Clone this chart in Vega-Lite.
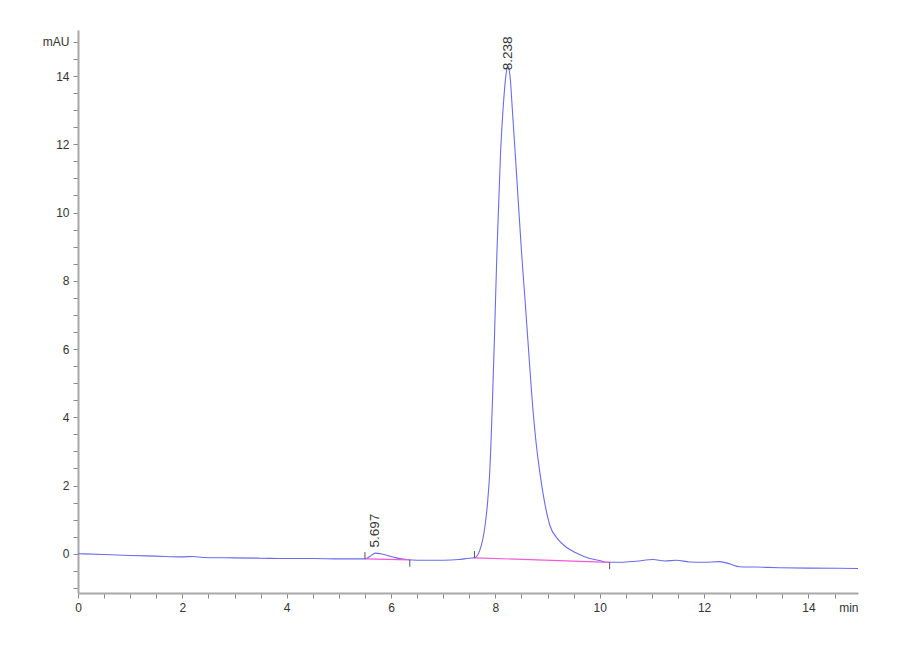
{
  "$schema": "https://vega.github.io/schema/vega-lite/v6.json",
  "width": 780,
  "height": 563,
  "autosize": "none",
  "padding": {"left": 78, "top": 30, "right": 42, "bottom": 67},
  "background": "white",
  "config": {
    "view": {"stroke": null},
    "font": "Liberation Sans",
    "axis": {
      "grid": false,
      "domainColor": "#a8a8a8",
      "domainWidth": 2,
      "tickColor": "#8a8a8a",
      "tickSize": 5,
      "tickCount": 200,
      "labelOverlap": false,
      "labelBound": false,
      "labelFlush": false,
      "labelColor": "#333333",
      "labelFontSize": 12,
      "labelFont": "Liberation Sans",
      "titleFont": "Liberation Sans",
      "titleFontWeight": "normal",
      "titleFontSize": 12,
      "titleColor": "#333333"
    }
  },
  "datasets": {
    "signal": [
      {"t": 0, "mAU": 0.0}, {"t": 0.5, "mAU": -0.02}, {"t": 1, "mAU": -0.05},
      {"t": 1.5, "mAU": -0.07}, {"t": 2, "mAU": -0.09}, {"t": 2.2, "mAU": -0.08},
      {"t": 2.4, "mAU": -0.11}, {"t": 3, "mAU": -0.12}, {"t": 3.5, "mAU": -0.13},
      {"t": 4, "mAU": -0.14}, {"t": 4.5, "mAU": -0.14}, {"t": 5, "mAU": -0.15},
      {"t": 5.5, "mAU": -0.15}, {"t": 5.6, "mAU": -0.07}, {"t": 5.7, "mAU": 0.02},
      {"t": 5.8, "mAU": 0.0}, {"t": 5.95, "mAU": -0.06}, {"t": 6.1, "mAU": -0.12},
      {"t": 6.3, "mAU": -0.17}, {"t": 6.5, "mAU": -0.19}, {"t": 7.0, "mAU": -0.19},
      {"t": 7.3, "mAU": -0.17}, {"t": 7.5, "mAU": -0.13}, {"t": 7.6, "mAU": -0.12},
      {"t": 7.7, "mAU": 0.1}, {"t": 7.8, "mAU": 0.8}, {"t": 7.85, "mAU": 1.5},
      {"t": 7.89, "mAU": 2.35}, {"t": 7.94, "mAU": 4.3}, {"t": 7.98, "mAU": 6.25},
      {"t": 8.03, "mAU": 8.86}, {"t": 8.1, "mAU": 11.8}, {"t": 8.15, "mAU": 13.1},
      {"t": 8.2, "mAU": 14.0}, {"t": 8.238, "mAU": 14.3}, {"t": 8.28, "mAU": 14.0},
      {"t": 8.33, "mAU": 12.9}, {"t": 8.39, "mAU": 11.5}, {"t": 8.5, "mAU": 8.86},
      {"t": 8.57, "mAU": 7.4}, {"t": 8.63, "mAU": 6.1}, {"t": 8.7, "mAU": 4.6},
      {"t": 8.77, "mAU": 3.4}, {"t": 8.85, "mAU": 2.4}, {"t": 8.95, "mAU": 1.45},
      {"t": 9.04, "mAU": 0.85}, {"t": 9.2, "mAU": 0.42}, {"t": 9.36, "mAU": 0.19},
      {"t": 9.55, "mAU": 0.02}, {"t": 9.81, "mAU": -0.14}, {"t": 10.0, "mAU": -0.2},
      {"t": 10.13, "mAU": -0.25}, {"t": 10.4, "mAU": -0.25}, {"t": 10.7, "mAU": -0.22},
      {"t": 11.02, "mAU": -0.17}, {"t": 11.25, "mAU": -0.21}, {"t": 11.47, "mAU": -0.19},
      {"t": 11.72, "mAU": -0.24}, {"t": 12.0, "mAU": -0.25}, {"t": 12.3, "mAU": -0.23},
      {"t": 12.5, "mAU": -0.3}, {"t": 12.68, "mAU": -0.38}, {"t": 13.0, "mAU": -0.39},
      {"t": 13.45, "mAU": -0.41}, {"t": 14.0, "mAU": -0.42}, {"t": 14.95, "mAU": -0.43}
    ],
    "baselines": [
      {"peak": "p1", "t": 5.5, "mAU": -0.15}, {"peak": "p1", "t": 6.36, "mAU": -0.18},
      {"peak": "p2", "t": 7.6, "mAU": -0.12}, {"peak": "p2", "t": 10.19, "mAU": -0.25}
    ],
    "marks": [
      {"t": 5.5, "y1": -0.15, "y2": 0.05}, {"t": 6.36, "y1": -0.18, "y2": -0.38},
      {"t": 7.6, "y1": -0.12, "y2": 0.08}, {"t": 10.19, "y1": -0.25, "y2": -0.45}
    ],
    "labels": [
      {"t": 8.238, "mAU": 14.17, "label": "8.238"},
      {"t": 5.697, "mAU": 0.18, "label": "5.697"}
    ]
  },
  "layer": [
    {
      "data": {"name": "signal"},
      "mark": {"type": "line", "color": "#6b6bf0", "strokeWidth": 1.1, "interpolate": "monotone"},
      "encoding": {
        "x": {
          "field": "t", "type": "quantitative",
          "scale": {"domain": [0, 14.95], "nice": false, "zero": false},
          "axis": {
            "values": [0, 0.5, 1, 1.5, 2, 2.5, 3, 3.5, 4, 4.5, 5, 5.5, 6, 6.5, 7, 7.5, 8, 8.5, 9, 9.5, 10, 10.5, 11, 11.5, 12, 12.5, 13, 13.5, 14, 14.5],
            "labelExpr": "datum.value % 2 == 0 ? format(datum.value, 'd') : ''",
            "labelPadding": 4,
            "title": "min",
            "titleAnchor": "end",
            "titleAlign": "right",
            "titleBaseline": "top",
            "titleY": 9,
            "titleX": 780
          }
        },
        "y": {
          "field": "mAU", "type": "quantitative",
          "scale": {"domain": [-1.15, 15.35], "nice": false, "zero": false},
          "axis": {
            "values": [-1, -0.5, 0, 0.5, 1, 1.5, 2, 2.5, 3, 3.5, 4, 4.5, 5, 5.5, 6, 6.5, 7, 7.5, 8, 8.5, 9, 9.5, 10, 10.5, 11, 11.5, 12, 12.5, 13, 13.5, 14, 14.5, 15],
            "labelExpr": "datum.value == 15 ? 'mAU' : (datum.value >= 0 && datum.value % 2 == 0 ? format(datum.value, 'd') : '')",
            "labelPadding": 4,
            "title": null
          }
        }
      }
    },
    {
      "data": {"name": "baselines"},
      "mark": {"type": "line", "color": "#f25ad8", "strokeWidth": 1.2},
      "encoding": {
        "x": {"field": "t", "type": "quantitative"},
        "y": {"field": "mAU", "type": "quantitative"},
        "detail": {"field": "peak"}
      }
    },
    {
      "data": {"name": "marks"},
      "mark": {"type": "rule", "color": "#555555", "strokeWidth": 1},
      "encoding": {
        "x": {"field": "t", "type": "quantitative"},
        "y": {"field": "y1", "type": "quantitative"},
        "y2": {"field": "y2"}
      }
    },
    {
      "data": {"name": "labels"},
      "mark": {"type": "text", "angle": 270, "align": "left", "baseline": "middle", "fontSize": 13.5, "color": "#333333", "font": "Liberation Sans"},
      "encoding": {
        "x": {"field": "t", "type": "quantitative"},
        "y": {"field": "mAU", "type": "quantitative"},
        "text": {"field": "label"}
      }
    }
  ]
}
